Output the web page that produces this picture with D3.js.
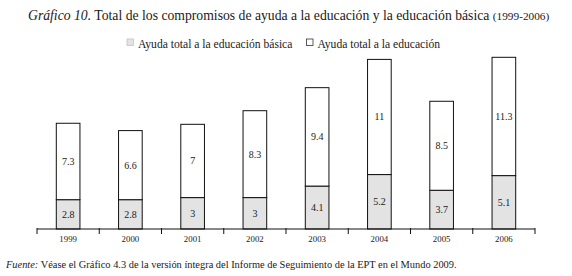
<!DOCTYPE html>
<html>
<head>
<meta charset="utf-8">
<script src="https://cdn.jsdelivr.net/npm/d3@7"></script>
<style>
  body { margin: 0; background: #fff; }
  svg text { font-family: "Liberation Serif", "Times New Roman", "DejaVu Serif", serif; }
</style>
</head>
<body>
<svg id="chart" width="572" height="276"></svg>
<script>
// datos
const years = ['1999', '2000', '2001', '2002', '2003', '2004', '2005', '2006'];
const basica = [2.8, 2.8, 3, 3, 4.1, 5.2, 3.7, 5.1];
const total = [7.3, 6.6, 7, 8.3, 9.4, 11, 8.5, 11.3];
const seriesNames = ['Ayuda total a la educación básica', 'Ayuda total a la educación'];
const seriesColors = ['#e3e3e3', '#ffffff'];

const svg = d3.select('#chart');

const margin = {left: 37, right: 37, bottom: 47};
const width = +svg.attr('width'), height = +svg.attr('height');
const baseY = height - margin.bottom; // eje x

const rows = years.map((y, i) => ({year: y, basica: basica[i], total: total[i]}));
const stack = d3.stack().keys(['basica', 'total'])(rows);

const x = d3.scaleBand()
  .domain(years)
  .range([margin.left, width - margin.right])
  .paddingInner(0.62)
  .paddingOuter(0.31);

const y = d3.scaleLinear()
  .domain([0, 16.2])
  .range([baseY, baseY - 169.6]);

// titulo
const title = svg.append('text')
  .attr('x', 28).attr('y', 19.5)
  .attr('font-size', 13.7)
  .attr('fill', '#1a1a1a');
title.append('tspan').attr('font-style', 'italic').text('Gráfico 10.');
title.append('tspan').text(' Total de los compromisos de ayuda a la educación y la educación básica ');
title.append('tspan').attr('font-size', 11.3).text('(1999-2006)');

// leyenda
const legend = svg.append('g').attr('font-size', 11.6).attr('fill', '#1a1a1a');
const legendX = [127, 306.5];
seriesNames.forEach((name, i) => {
  legend.append('rect')
    .attr('x', legendX[i]).attr('y', 39)
    .attr('width', 6.5).attr('height', 6.5)
    .attr('fill', seriesColors[i])
    .attr('stroke', i === 0 ? '#c4c4c4' : '#333')
    .attr('stroke-width', 0.8);
  legend.append('text')
    .attr('x', legendX[i] + 11).attr('y', 48)
    .text(name);
});

// barras
const groups = svg.append('g')
  .selectAll('g')
  .data(stack)
  .join('g')
  .attr('fill', (d, i) => seriesColors[i]);

groups.selectAll('rect')
  .data(d => d)
  .join('rect')
  .attr('x', d => x(d.data.year))
  .attr('y', d => y(d[1]))
  .attr('width', x.bandwidth())
  .attr('height', d => y(d[0]) - y(d[1]))
  .attr('stroke', '#111')
  .attr('stroke-width', 1);

// etiquetas de valores
svg.append('g')
  .attr('font-size', 10)
  .attr('fill', '#1a1a1a')
  .attr('text-anchor', 'middle')
  .selectAll('g')
  .data(stack)
  .join('g')
  .selectAll('text')
  .data(d => d.map(v => ({v, key: d.key})))
  .join('text')
  .attr('x', d => x(d.v.data.year) + x.bandwidth() / 2)
  .attr('y', d => (y(d.v[0]) + y(d.v[1])) / 2 + 3.5)
  .text(d => d.v.data[d.key]);

// eje x
const axis = svg.append('g')
  .attr('transform', `translate(0,${baseY})`)
  .call(d3.axisBottom(x).tickSize(0).tickPadding(7));
axis.select('.domain').attr('stroke', '#111').attr('d', `M${margin.left},0H${width - margin.right}`);
axis.selectAll('.tick text')
  .attr('font-size', 8.8)
  .attr('fill', '#1a1a1a');
// marcas entre categorías
axis.append('g')
  .selectAll('line')
  .data(d3.range(years.length + 1))
  .join('line')
  .attr('x1', i => margin.left + i * x.step())
  .attr('x2', i => margin.left + i * x.step())
  .attr('y1', -1).attr('y2', 5)
  .attr('stroke', '#111');

// fuente
const src = svg.append('text')
  .attr('x', 6).attr('y', 268)
  .attr('font-size', 10.4)
  .attr('fill', '#1a1a1a');
src.append('tspan').attr('font-style', 'italic').text('Fuente:');
src.append('tspan').text(' Véase el Gráfico 4.3 de la versión íntegra del Informe de Seguimiento de la EPT en el Mundo 2009.');
</script>
</body>
</html>
